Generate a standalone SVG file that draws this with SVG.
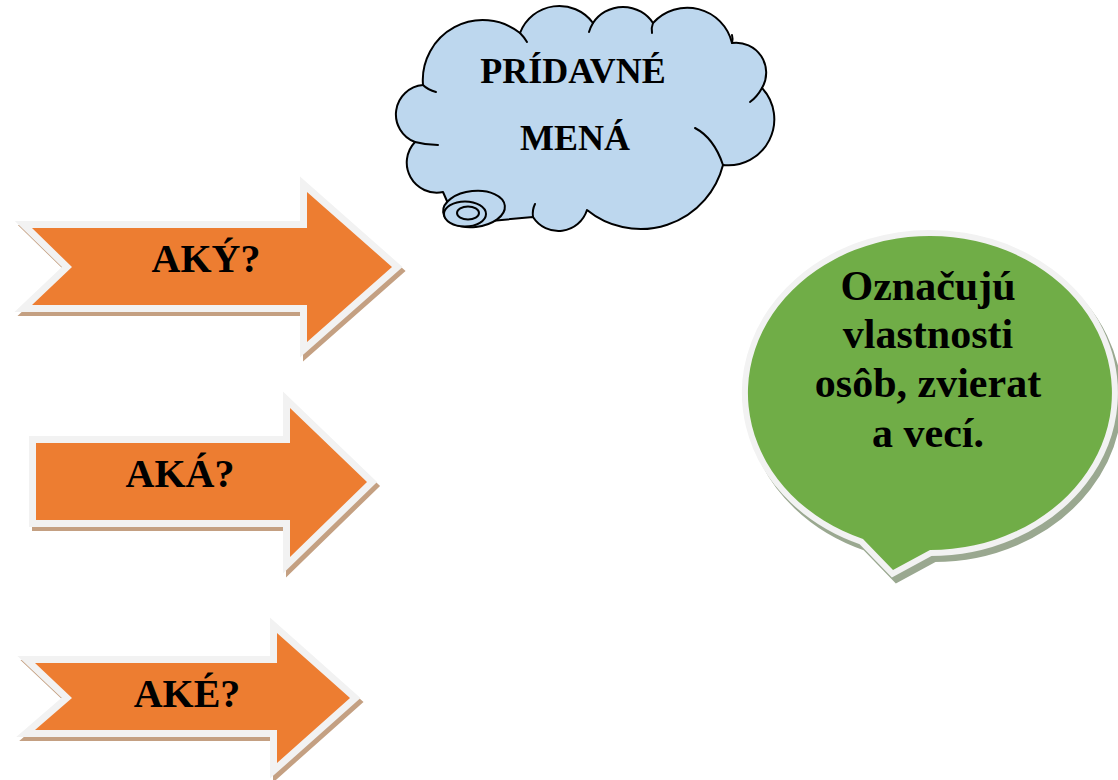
<svg xmlns="http://www.w3.org/2000/svg" width="1118" height="780" viewBox="0 0 1118 780">
<defs>
<style>
.lbl{font-family:"Liberation Serif","Times New Roman",serif;font-weight:bold;fill:#000;text-anchor:middle}
.arrow-shadow{fill:#c4a082;stroke:#c4a082;stroke-width:14;stroke-linejoin:miter}
.arrow-border{fill:#f2f2f2;stroke:#f2f2f2;stroke-width:14;stroke-linejoin:miter}
.arrow-body{fill:#ed7d31}
.cloud{fill:#bdd7ee;stroke:#000;stroke-width:2;stroke-linejoin:round}
.hook{fill:none;stroke:#000;stroke-width:2;stroke-linecap:round}
.bubble-shadow{fill:#9aa890;stroke:#9aa890;stroke-width:12;stroke-linejoin:miter}
.bubble-border{fill:#f2f2f2;stroke:#f2f2f2;stroke-width:12;stroke-linejoin:miter}
.bubble-body{fill:#70ad47}
</style>
<polygon id="a1" points="32,228 307,228 307,192 392,267 307,342 307,305 32,305 72,267"/>
<polygon id="a2" points="36,443 290,443 290,408 367,482 290,557 290,520 36,520"/>
<polygon id="a3" points="35,663 277,663 277,633 350,698 277,763 277,730 35,730 72,698"/>
<path id="bub" d="M863,539 L893,570 L930,550 A182,157 0 1 0 863,539 Z"/>
</defs>
<rect width="1118" height="780" fill="#fff"/>

<g id="cloud">
<path class="cloud" d="M423,85 A60,60 0 0 1 520,33 A42,42 0 0 1 593,23 A36,36 0 0 1 653,23 A46,46 0 0 1 732,43 A30,30 0 0 1 762,88 A46,46 0 0 1 723,165 A85,85 0 0 1 587,210 A30,30 0 0 1 533,217 L480,222 L450,208 L443,192 A30,30 0 0 1 415,142 A29.5,29.5 0 0 1 423,85 Z"/>
<path class="hook" d="M423,85 Q428,90 436,92"/>
<path class="hook" d="M520,33 Q524,37 527,42"/>
<path class="hook" d="M593,23 Q590,28 589,32"/>
<path class="hook" d="M653,23 Q651,28 652,33"/>
<path class="hook" d="M732,43 Q733,38 732,35"/>
<path class="hook" d="M762,88 Q757,97 750,102"/>
<path class="hook" d="M723,165 Q714,138 695,128"/>
<path class="hook" d="M533,217 Q532,210 535,204"/>
<path class="hook" d="M415,142 Q426,145 438,145"/>
<ellipse cx="474" cy="209" rx="31" ry="18" transform="rotate(-6 474 209)" fill="#bdd7ee" stroke="#000" stroke-width="2"/>
<ellipse cx="465" cy="214" rx="21" ry="12.5" fill="#bdd7ee" stroke="#000" stroke-width="2"/>
<ellipse cx="468" cy="213" rx="11" ry="6.5" fill="#bdd7ee" stroke="#000" stroke-width="2"/>
<text class="lbl" x="573" y="83" font-size="36">PRÍDAVNÉ</text>
<text class="lbl" x="575" y="150" font-size="36">MENÁ</text>
</g>

<g id="arrow-aky">
<use href="#a1" class="arrow-shadow" transform="translate(3,4)"/>
<use href="#a1" class="arrow-border"/>
<use href="#a1" class="arrow-body"/>
<text class="lbl" x="206" y="272" font-size="40">AKÝ?</text>
</g>

<g id="arrow-aka">
<use href="#a2" class="arrow-shadow" transform="translate(3,4)"/>
<use href="#a2" class="arrow-border"/>
<use href="#a2" class="arrow-body"/>
<text class="lbl" x="180" y="487" font-size="40">AKÁ?</text>
</g>

<g id="arrow-ake">
<use href="#a3" class="arrow-shadow" transform="translate(3,4)"/>
<use href="#a3" class="arrow-border"/>
<use href="#a3" class="arrow-body"/>
<text class="lbl" x="187" y="707" font-size="40">AKÉ?</text>
</g>

<g id="bubble">
<use href="#bub" class="bubble-shadow" transform="translate(4,6)"/>
<use href="#bub" class="bubble-border"/>
<use href="#bub" class="bubble-body"/>
<text class="lbl" x="928" y="300" font-size="42">Označujú</text>
<text class="lbl" x="928" y="348" font-size="42">vlastnosti</text>
<text class="lbl" x="928" y="397" font-size="42">osôb, zvierat</text>
<text class="lbl" x="928" y="447" font-size="42">a vecí.</text>
</g>

<g id="connectors"/>
</svg>
